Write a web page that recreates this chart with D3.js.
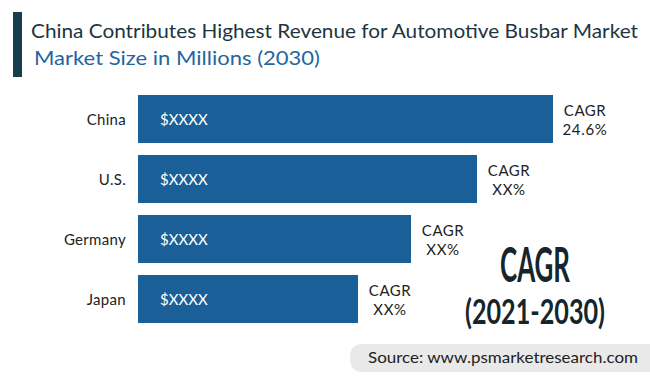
<!DOCTYPE html>
<html>
<head>
<meta charset="utf-8">
<script src="https://cdn.jsdelivr.net/npm/d3@7"></script>
<style>
  body { margin: 0; background: #fff; }
  text { font-family: "Lato", "Open Sans", sans-serif; }
</style>
</head>
<body>
<script>
// chart data
const countries = ["China", "U.S.", "Germany", "Japan"]
const sizes = [415, 339, 273, 220]          // relative bar lengths
const valueLabels = ["$XXXX", "$XXXX", "$XXXX", "$XXXX"]
const cagrLabels = ["24.6%", "XX%", "XX%", "XX%"]

const W = 650, H = 386
const svg = d3.select("body").append("svg")
    .attr("width", W).attr("height", H)

// title block
svg.append("rect").attr("x", 13).attr("y", 12).attr("width", 9).attr("height", 65)
    .attr("fill", "#173e4d")
svg.append("text").attr("x", 31).attr("y", 38)
    .attr("font-size", 20).attr("fill", "#1d3540")
    .attr("textLength", 607).attr("lengthAdjust", "spacingAndGlyphs")
    .text("China Contributes Highest Revenue for Automotive Busbar Market")
svg.append("text").attr("x", 34).attr("y", 65)
    .attr("font-size", 20).attr("fill", "#2465a0")
    .attr("textLength", 286).attr("lengthAdjust", "spacingAndGlyphs")
    .text("Market Size in Millions (2030)")

// scales
const x = d3.scaleLinear().domain([0, d3.max(sizes)]).range([138, 553])
const y = d3.scaleBand().domain(countries).range([95, 323]).paddingInner(0.2).paddingOuter(0)

const rows = svg.append("g").selectAll("g").data(countries).join("g")

rows.append("rect")
    .attr("x", x(0))
    .attr("y", d => y(d))
    .attr("width", (d, i) => x(sizes[i]) - x(0))
    .attr("height", y.bandwidth())
    .attr("fill", "#1b5f98")

rows.append("text")
    .attr("x", 126)
    .attr("y", d => y(d) + y.bandwidth() / 2)
    .attr("text-anchor", "end").attr("dominant-baseline", "central")
    .attr("font-size", 15).attr("fill", "#222")
    .attr("letter-spacing", 0.3)
    .text(d => d)

rows.append("text")
    .attr("x", 160)
    .attr("y", d => y(d) + y.bandwidth() / 2)
    .attr("dominant-baseline", "central")
    .attr("font-size", 15).attr("fill", "#fff")
    .text((d, i) => valueLabels[i])

rows.append("text")
    .attr("x", (d, i) => x(sizes[i]) + 32)
    .attr("y", d => y(d) + y.bandwidth() / 2 - 9)
    .attr("text-anchor", "middle").attr("dominant-baseline", "central")
    .attr("font-size", 15).attr("fill", "#222")
    .attr("letter-spacing", 0.5)
    .text("CAGR")

rows.append("text")
    .attr("x", (d, i) => x(sizes[i]) + 32)
    .attr("y", d => y(d) + y.bandwidth() / 2 + 10)
    .attr("text-anchor", "middle").attr("dominant-baseline", "central")
    .attr("font-size", 15).attr("fill", "#222")
    .attr("letter-spacing", 0.7)
    .text((d, i) => cagrLabels[i])

// big CAGR note, tall condensed look via vertical stretch
svg.append("text")
    .attr("transform", "translate(500,282) scale(1,1.3)")
    .attr("font-family", "DejaVu Sans Condensed, DejaVu Sans").attr("font-weight", "bold")
    .attr("font-size", 36).attr("fill", "#14252b")
    .attr("textLength", 70).attr("lengthAdjust", "spacingAndGlyphs")
    .text("CAGR")
svg.append("text")
    .attr("transform", "translate(465,324) scale(1,1.35)")
    .attr("font-family", "DejaVu Sans Condensed, DejaVu Sans").attr("font-weight", "bold")
    .attr("font-size", 26).attr("fill", "#14252b")
    .attr("textLength", 140).attr("lengthAdjust", "spacingAndGlyphs")
    .text("(2021-2030)")

// source strip
svg.append("path")
    .attr("d", "M 650 344 L 362 344 Q 350 344 350 358 Q 350 372 362 372 L 650 372 Z")
    .attr("fill", "#e9e9ea")
svg.append("text").attr("x", 368).attr("y", 363)
    .attr("font-size", 15).attr("fill", "#222")
    .attr("textLength", 270).attr("lengthAdjust", "spacingAndGlyphs")
    .text("Source: www.psmarketresearch.com")
</script>
</body>
</html>
